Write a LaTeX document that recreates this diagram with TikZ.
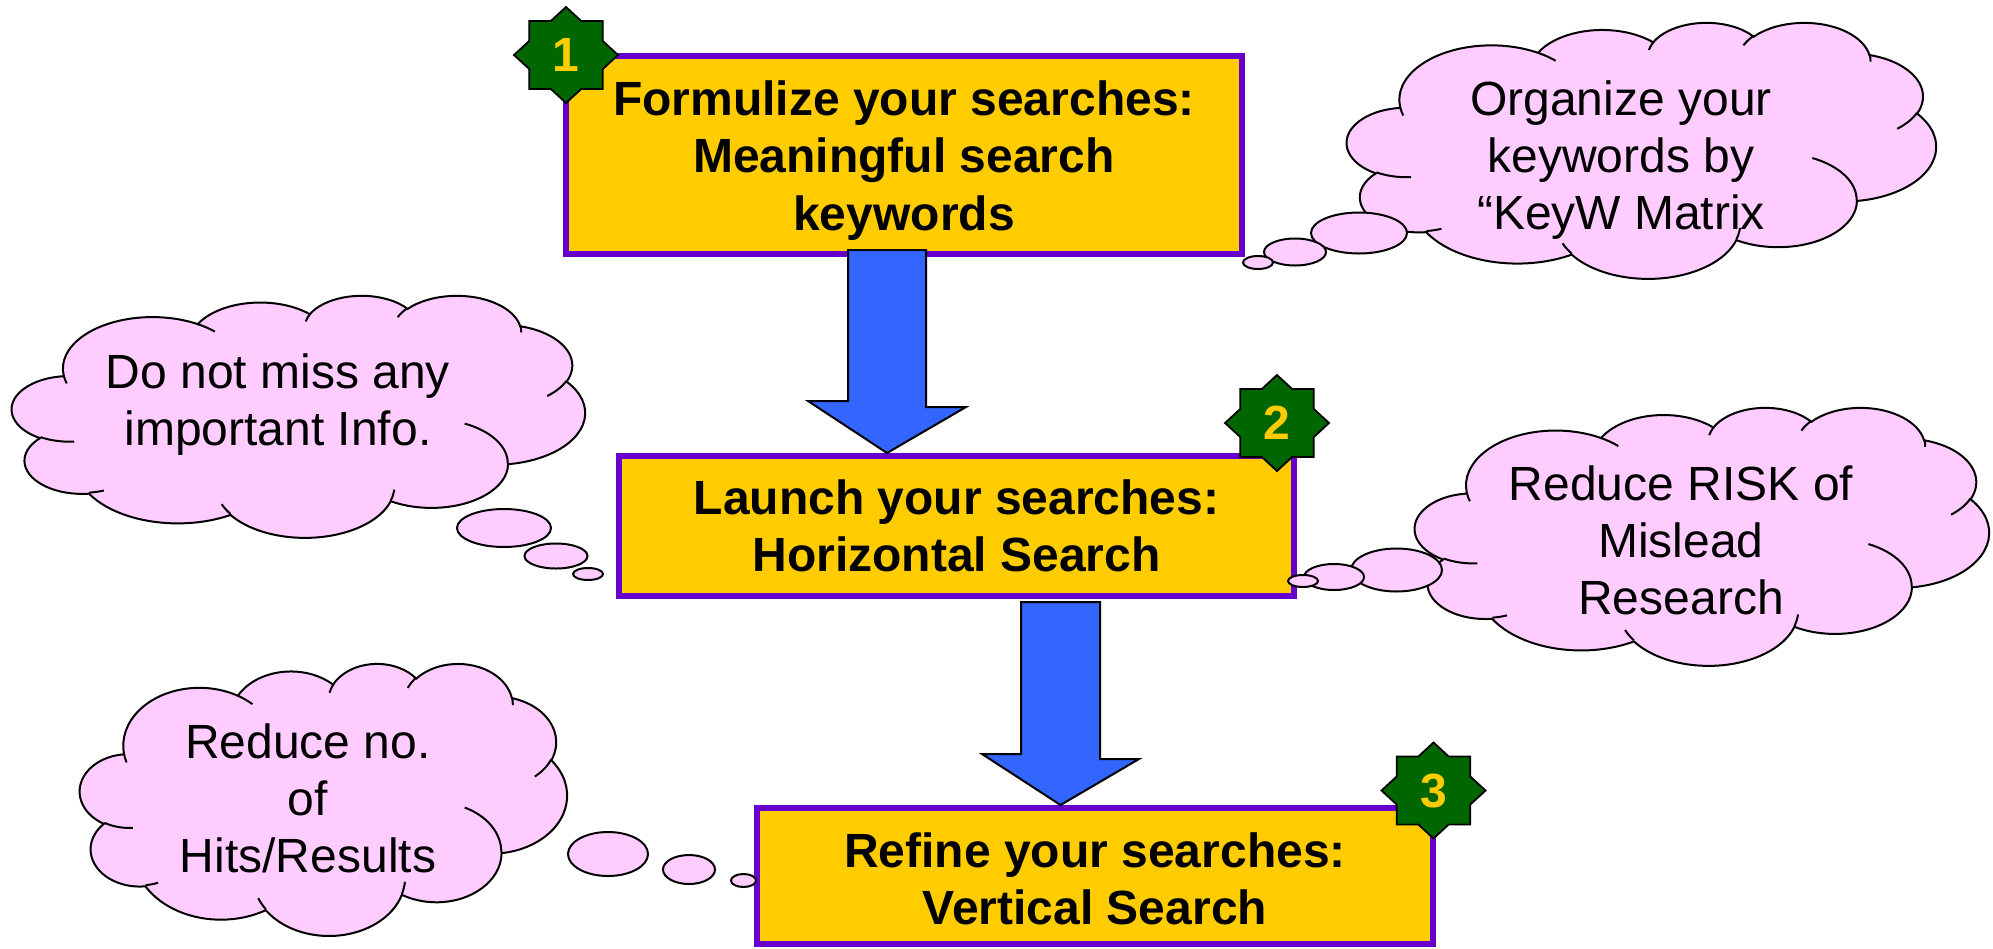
\documentclass[tikz,border=0pt]{standalone}
\usepackage{fontspec}
\setmainfont{Liberation Sans}
\usetikzlibrary{shapes.geometric,calc}
\definecolor{boxfill}{HTML}{FFCC00}
\definecolor{boxedge}{HTML}{6600CC}
\definecolor{cloudpink}{HTML}{FFCCFF}
\definecolor{arrowblue}{HTML}{3366FF}
\definecolor{stargreen}{HTML}{006600}

% elliptical arc given with "visual" angles (as in the cloud preset)
\newcommand\addarc[5]{%
  \pgfmathsetmacro\tS{atan2((#2)*sin(#4),(#3)*cos(#4))}%
  \pgfmathsetmacro\tE{atan2((#2)*sin((#4)+(#5)),(#3)*cos((#4)+(#5)))}%
  \pgfmathsetmacro\tD{\tE-\tS}%
  \pgfmathsetmacro\tD{\tD-360*round((\tD-(#5))/360)}%
  \xdef#1{#1 arc[start angle=\tS, delta angle=\tD, x radius=#2, y radius=#3]}%
}
\newcommand\addmove[2]{\xdef#1{#1 (#2)}}

\gdef\cloudpath{}
\addarc\cloudpath{675.3}{919.0}{-190.4875}{123.7805}
\addarc\cloudpath{533.3}{726.7}{-144.1024}{89.9452}
\addarc\cloudpath{436.5}{594.5}{-145.8079}{99.7230}
\addarc\cloudpath{485.7}{659.5}{-130.9861}{117.2417}
\addarc\cloudpath{533.3}{727.3}{-78.7089}{109.0269}
\addarc\cloudpath{677.5}{922.0}{-46.2673}{130.2690}
\addarc\cloudpath{578.5}{786.7}{0.6250}{114.0333}
\addarc\cloudpath{675.2}{921.5}{22.4516}{115.1726}
\addarc\cloudpath{772.0}{1054.3}{66.2426}{75.7110}
\addarc\cloudpath{436.0}{591.8}{-274.9421}{146.7356}
\addarc\cloudpath{434.5}{594.5}{-246.8285}{152.5189}

\gdef\innerpath{}
\addmove\innerpath{469.3,2617.7}\addarc\innerpath{434.5}{594.5}{86.7420}{26.4295}
\addmove\innerpath{692.8,3489.9}\addarc\innerpath{436.0}{591.8}{73.6105}{11.4475}
\addmove\innerpath{1647.8,3909.0}\addarc\innerpath{675.2}{921.5}{137.6242}{14.0811}
\addmove\innerpath{2882.7,3475.1}\addarc\innerpath{675.2}{921.5}{6.4533}{15.9984}
\addmove\innerpath{3412.9,2295.4}\addarc\innerpath{578.5}{786.7}{-70.2924}{70.9174}
\addmove\innerpath{4179.8,1535.4}\addarc\innerpath{533.3}{727.3}{30.3180}{27.7515}
\addmove\innerpath{3832.4,542.6}\addarc\innerpath{485.7}{659.5}{-13.7443}{14.8589}
\addmove\innerpath{2907.8,395.2}\addarc\innerpath{485.7}{659.5}{-149.1815}{18.1954}
\addmove\innerpath{2214.1,472.0}\addarc\innerpath{436.5}{594.5}{-163.4943}{17.6864}
\addmove\innerpath{1400.0,519.2}\addarc\innerpath{675.3}{919.0}{-66.7070}{12.3194}
\addmove\innerpath{412.7,1578.9}\addarc\innerpath{675.3}{919.0}{157.6544}{11.8582}

\tikzset{
  procbox/.style={draw=boxedge, line width=6pt, fill=boxfill, align=center,
    inner sep=0pt, font=\fontsize{48}{57.5}\selectfont\bfseries},
  cloudfill/.style={fill=cloudpink, draw=black, line width=2pt},
  cloudline/.style={draw=black, line width=2pt},
  cloudtext/.style={align=center, inner sep=0pt, font=\fontsize{48}{57}\selectfont},
  bubble/.style={ellipse, fill=cloudpink, draw=black, line width=2pt, inner sep=0pt},
  blockarrow/.style={fill=arrowblue, draw=black, line width=2pt, line join=miter},
  starsty/.style={fill=stargreen, draw=black, line width=1.8pt, line join=miter},
  badgetext/.style={inner sep=0pt, text=boxfill, font=\fontsize{48}{48}\selectfont\bfseries}
}

\newcommand\mkcloud[5]{%
  \begin{scope}[shift={(#2,#3)}, xscale=#4/4320, yscale=#5/4320]
    \path[cloudfill] (390,1437) \cloudpath -- cycle;
    \path[cloudline] \innerpath;
    \coordinate (#1) at (2160,2160);
  \end{scope}}

\newcommand\mkbadge[4]{%
  \draw[starsty, shift={(#2,#3)}, xscale=52, yscale=48]
    (0:1) -- (22.5:.765) -- (45:1) -- (67.5:.765) -- (90:1) -- (112.5:.765)
    -- (135:1) -- (157.5:.765) -- (180:1) -- (202.5:.765) -- (225:1)
    -- (247.5:.765) -- (270:1) -- (292.5:.765) -- (315:1) -- (337.5:.765) -- cycle;
  \node[badgetext] (#1) at (#2,#3) {#4};}

\begin{document}
\begin{tikzpicture}[x=1pt, y=-1pt]
\useasboundingbox (0,0) rectangle (1993,948);
\fill[white] (0,0) rectangle (1993,948);

% process boxes
\node[procbox, minimum width=676, minimum height=198] (b1) at (904,155)
  {\rule{0pt}{45pt}Formulize your searches:\\Meaningful search\\keywords};
\node[procbox, minimum width=675, minimum height=140] (b2) at (956.5,526)
  {Launch your searches:\\Horizontal Search};
\node[procbox, minimum width=676, minimum height=136] (b3) at (1095,876)
  {\rule{0pt}{40pt}Refine your searches:\\Vertical Search};

% block arrows
\coordinate (a1s) at ($(b1.south)+(-17,-7)$);
\coordinate (a1t) at (a1s |- b2.north);
\draw[blockarrow] (a1s) ++(-39,0) -- ++(78,0) -- ++(0,157) -- ++(40,0)
  -- (a1t) -- ++(-79,-52) -- ++(40,0) -- cycle;
\coordinate (a2s) at ($(b2.south)+(104,3)$);
\coordinate (a2t) at (a2s |- b3.north);
\draw[blockarrow] (a2s) ++(-39.5,0) -- ++(79,0) -- ++(0,157) -- ++(39,0)
  -- (a2t) -- ++(-78.5,-51) -- ++(39,0) -- cycle;

% clouds
\mkcloud{c1}{1347}{22}{589}{256}
\node[bubble, minimum width=96, minimum height=41] (c1L) at (1359,233) {};
\node[bubble, minimum width=62, minimum height=27] (c1M) at (1295,252) {};
\node[bubble, minimum width=30, minimum height=13] (c1S) at (1258,262.5) {};
\node[cloudtext] (t1) at (1621,160) {Organize your\\keywords by\\“KeyW Matrix};

\mkcloud{c2}{12}{295}{573}{242}
\node[bubble, minimum width=94, minimum height=38] (c2L) at (504,528) {};
\node[bubble, minimum width=63, minimum height=25] (c2M) at (556,556) {};
\node[bubble, minimum width=30, minimum height=12] (c2S) at (588,574) {};
\node[cloudtext] (t2) at (278,404.5) {Do not miss any\\important Info.};

\mkcloud{c3}{1415}{407}{574}{258}
\node[bubble, minimum width=91, minimum height=43] (c3L) at (1396.5,570) {};
\node[bubble, minimum width=60, minimum height=26] (c3M) at (1334,577) {};
\node[bubble, minimum width=30, minimum height=12] (c3S) at (1303,581) {};
\node[cloudtext] (t3) at (1681,540) {Reduce RISK of\\Mislead\\Research};

\mkcloud{c4}{80}{663}{487}{272}
\node[bubble, minimum width=80, minimum height=44] (c4L) at (608,854) {};
\node[bubble, minimum width=52, minimum height=29] (c4M) at (689,869.5) {};
\node[bubble, minimum width=25, minimum height=13] (c4S) at (743.5,880.5) {};
\node[cloudtext] (t4) at (308,798.5) {Reduce no.\\of\\Hits/Results};

% numbered badges
\mkbadge{s1}{566}{55}{1}
\mkbadge{s2}{1277}{423}{2}
\mkbadge{s3}{1433.5}{790.5}{3}
\end{tikzpicture}
\end{document}
